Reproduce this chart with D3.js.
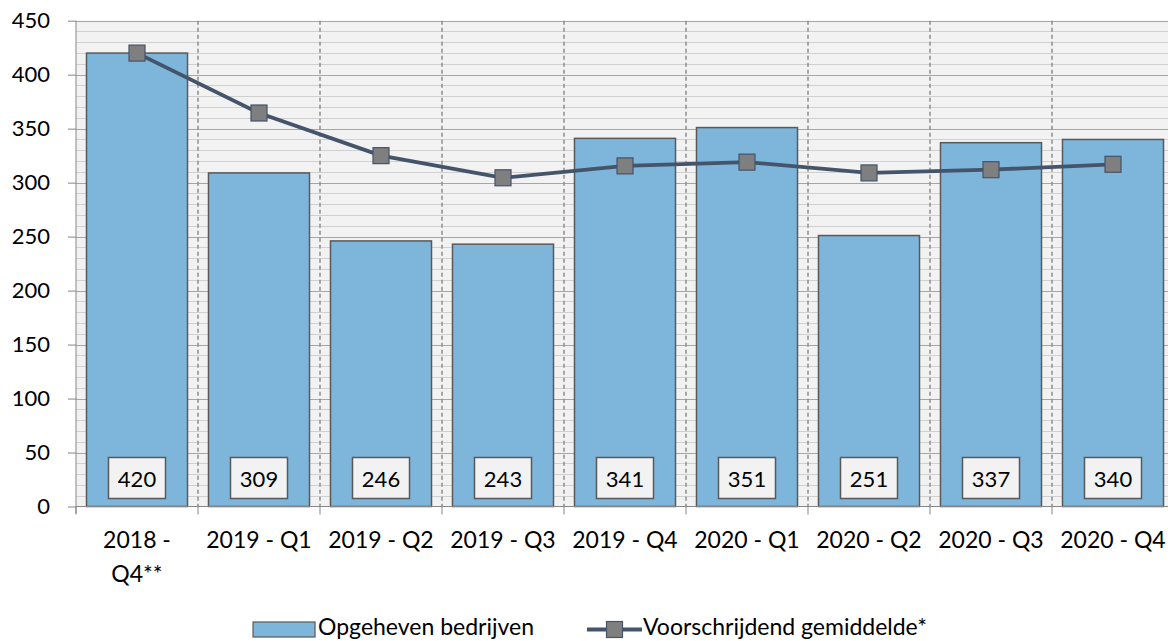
<!DOCTYPE html>
<html>
<head>
<meta charset="utf-8">
<script src="https://cdn.jsdelivr.net/npm/d3@7"></script>
<style>
  body { margin: 0; background: #fff; }
  svg { display: block; font-family: Lato, "Open Sans", sans-serif; }
</style>
</head>
<body>
<svg id="chart" width="1168" height="641"></svg>
<script>
// data
const categories = ["2018 - Q4**", "2019 - Q1", "2019 - Q2", "2019 - Q3", "2019 - Q4",
                    "2020 - Q1", "2020 - Q2", "2020 - Q3", "2020 - Q4"];
const closedCompanies = [420, 309, 246, 243, 341, 351, 251, 337, 340];
const movingAverage = [420, 364.5, 325, 304.5, 315.5, 319, 309, 312, 317];
const yTicks = [0, 50, 100, 150, 200, 250, 300, 350, 400, 450];
const seriesNames = ["Opgeheven bedrijven", "Voorschrijdend gemiddelde*"];

const svg = d3.select("#chart");
const plotLeft = 76, plotTop = 20.7, plotBottom = 506.5;
const step = 122;

const x = d3.scaleBand()
  .domain(categories)
  .range([plotLeft, plotLeft + step * categories.length])
  .paddingInner(0.172)
  .paddingOuter(0.086);

const y = d3.scaleLinear()
  .domain([0, 450])
  .range([plotBottom, plotTop]);

const plotRight = plotLeft + step * categories.length;

// plot background
svg.append("rect")
  .attr("x", plotLeft).attr("y", plotTop)
  .attr("width", plotRight - plotLeft).attr("height", plotBottom - plotTop)
  .attr("fill", "#f2f2f2");

// minor grid (every 10)
svg.append("g")
  .selectAll("line")
  .data(y.ticks(45).filter(d => d % 50 !== 0))
  .join("line")
  .attr("x1", plotLeft).attr("x2", plotRight)
  .attr("y1", d => Math.round(y(d)) + 0.5).attr("y2", d => Math.round(y(d)) + 0.5)
  .attr("stroke", "#d0d0d0").attr("stroke-width", 1);

// major grid
svg.append("g")
  .selectAll("line")
  .data(yTicks.filter(d => d > 0))
  .join("line")
  .attr("x1", plotLeft).attr("x2", plotRight)
  .attr("y1", d => Math.round(y(d)) + 0.5).attr("y2", d => Math.round(y(d)) + 0.5)
  .attr("stroke", "#a6a6a6").attr("stroke-width", 1.2);

// vertical dashed separators between categories
const sepX = c => x(c) - x.step() * x.paddingInner() / 2;
svg.append("g")
  .selectAll("line")
  .data(categories.slice(1))
  .join("line")
  .attr("x1", d => sepX(d))
  .attr("x2", d => sepX(d))
  .attr("y1", plotTop).attr("y2", plotBottom)
  .attr("stroke", "#8c8c8c").attr("stroke-width", 1.5)
  .attr("stroke-dasharray", "4,3");

// bars
svg.append("g")
  .selectAll("rect")
  .data(closedCompanies)
  .join("rect")
  .attr("x", (d, i) => x(categories[i]))
  .attr("y", d => y(d))
  .attr("width", x.bandwidth())
  .attr("height", d => plotBottom - y(d))
  .attr("fill", "#7eb5db")
  .attr("stroke", "#595959")
  .attr("stroke-width", 1.5);

// y axis
const yAxis = svg.append("g")
  .attr("transform", `translate(${plotLeft},0)`)
  .call(d3.axisLeft(y).tickValues(yTicks).tickSize(8).tickPadding(18));
yAxis.select(".domain").attr("stroke", "#868686").attr("d", `M0,${plotTop}V${plotBottom + 7}`);
yAxis.selectAll(".tick line").attr("stroke", "#868686");
yAxis.selectAll(".tick text")
  .attr("font-family", "Lato, sans-serif")
  .attr("font-size", 22)
  .attr("fill", "#000");

// x axis line + tick marks at category boundaries
svg.append("line")
  .attr("x1", plotLeft).attr("x2", plotRight)
  .attr("y1", plotBottom).attr("y2", plotBottom)
  .attr("stroke", "#868686");
svg.append("g")
  .selectAll("line")
  .data(categories)
  .join("line")
  .attr("x1", d => sepX(d)).attr("x2", d => sepX(d))
  .attr("y1", plotBottom).attr("y2", plotBottom + 8)
  .attr("stroke", "#868686");

// x labels, wrapped to the band width
const xAxis = svg.append("g")
  .attr("transform", `translate(0,${plotBottom})`)
  .call(d3.axisBottom(x).tickSize(0).tickPadding(0));
xAxis.select(".domain").remove();
xAxis.selectAll(".tick text")
  .attr("font-family", "Lato, sans-serif")
  .attr("font-size", 23)
  .attr("fill", "#000")
  .attr("dy", null)
  .attr("y", 41)
  .each(function(d) { wrap(d3.select(this), d, 116); });

function wrap(text, label, width) {
  const words = label.split(" ");
  text.text(null);
  let line = [];
  let tspan = text.append("tspan").attr("x", 0).attr("y", 41);
  let lineNo = 0;
  for (const w of words) {
    line.push(w);
    tspan.text(line.join(" "));
    if (tspan.node().getComputedTextLength() > width && line.length > 1) {
      line.pop();
      tspan.text(line.join(" "));
      line = [w];
      lineNo++;
      tspan = text.append("tspan").attr("x", 0).attr("y", 41 + lineNo * 34).text(w);
    }
  }
}

// value boxes at bottom of bars
const boxW = 57, boxH = 41;
const boxes = svg.append("g")
  .selectAll("g")
  .data(closedCompanies)
  .join("g")
  .attr("transform", (d, i) => `translate(${x(categories[i]) + x.bandwidth() / 2},${plotBottom - 8 - boxH})`);
boxes.append("rect")
  .attr("x", -boxW / 2).attr("y", 0)
  .attr("width", boxW).attr("height", boxH)
  .attr("fill", "#f2f2f2")
  .attr("stroke", "#595959")
  .attr("stroke-width", 1.5);
boxes.append("text")
  .attr("x", 0).attr("y", 29.5)
  .attr("text-anchor", "middle")
  .attr("font-size", 22)
  .attr("fill", "#000")
  .text(d => d);

// moving average line
const cx = i => x(categories[i]) + x.bandwidth() / 2;
svg.append("path")
  .datum(movingAverage)
  .attr("fill", "none")
  .attr("stroke", "#44546a")
  .attr("stroke-width", 3.8)
  .attr("d", d3.line().x((d, i) => cx(i)).y(d => y(d)));

const mk = 16;
svg.append("g")
  .selectAll("rect")
  .data(movingAverage)
  .join("rect")
  .attr("x", (d, i) => cx(i) - mk / 2)
  .attr("y", d => y(d) - mk / 2)
  .attr("width", mk).attr("height", mk)
  .attr("fill", "#7f7f7f")
  .attr("stroke", "#44546a")
  .attr("stroke-width", 1.2);

// legend
const legendY = 635;
const lg = svg.append("g").attr("font-size", 23);

const t1 = lg.append("text")
  .attr("x", 534).attr("y", legendY)
  .attr("text-anchor", "end")
  .text(seriesNames[0]);
const t1Start = 534 - t1.node().getComputedTextLength();
lg.append("rect")
  .attr("x", t1Start - 3 - 62).attr("y", 622)
  .attr("width", 62).attr("height", 15)
  .attr("fill", "#7eb5db")
  .attr("stroke", "#595959")
  .attr("stroke-width", 1.2);

lg.append("line")
  .attr("x1", 587).attr("x2", 642)
  .attr("y1", 629.5).attr("y2", 629.5)
  .attr("stroke", "#44546a")
  .attr("stroke-width", 3.8);
lg.append("rect")
  .attr("x", 614.5 - 8).attr("y", 629.5 - 8)
  .attr("width", 16).attr("height", 16)
  .attr("fill", "#7f7f7f")
  .attr("stroke", "#44546a")
  .attr("stroke-width", 1.2);
lg.append("text")
  .attr("x", 643).attr("y", legendY)
  .text(seriesNames[1]);
</script>
</body>
</html>
